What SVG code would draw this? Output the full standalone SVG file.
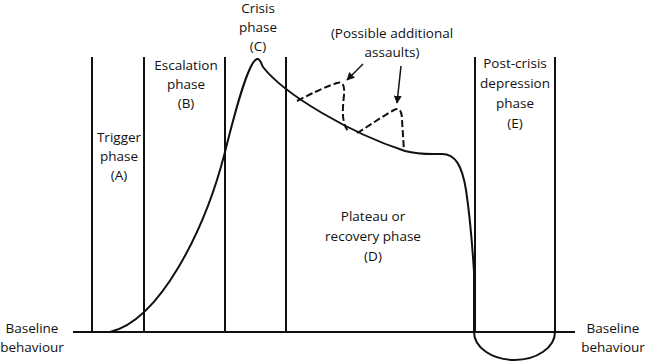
<svg xmlns="http://www.w3.org/2000/svg" width="650" height="362" viewBox="0 0 650 362">
<style>
.t{font-family:"Open Sans","Liberation Sans",sans-serif;font-size:13.5px;fill:#111;text-anchor:middle}
.ln{stroke:#111;stroke-width:2;fill:none}
.cv{stroke:#111;stroke-width:2;fill:none;stroke-linejoin:round}
.ds{stroke:#111;stroke-width:2;fill:none;stroke-dasharray:7 3}
.ar{stroke:#111;stroke-width:1.5;fill:none}
</style>
<defs>
<marker id="ah" viewBox="0 0 10 10" refX="9" refY="5" markerWidth="8" markerHeight="8" markerUnits="userSpaceOnUse" orient="auto">
<path d="M0 0 L10 5 L0 10 Z" fill="#111"/>
</marker>
</defs>
<rect width="650" height="362" fill="#fff"/>
<g id="frame">
<line class="ln" x1="73" y1="332" x2="575" y2="332"/>
<line class="ln" x1="92" y1="57" x2="92" y2="332"/>
<line class="ln" x1="144" y1="57" x2="144" y2="332"/>
<line class="ln" x1="225" y1="57" x2="225" y2="332"/>
<line class="ln" x1="286" y1="57" x2="286" y2="332"/>
<line class="ln" x1="475" y1="57" x2="475" y2="332"/>
<line class="ln" x1="555" y1="57" x2="555" y2="332"/>
</g>
<g id="curve">
<path class="cv" d="M100 332 L110 332 C160 320 205 230 225 152 C235 112 248 62 257 59 C260 58 261 63 263 67 C285 95 350 133 405 151 C420 155 430 154 442 154 C455 154 462 165 466 190 C469 210 472 240 474 272 L474 332 A40.5 28 0 0 0 555 332"/>
</g>
<g id="connectors">
<path class="ds" d="M297 101 C312 93 328 86 337 83 C343 81 345 86 344 95 C343 105 342 115 344 122 C345 127 347 130 349 132"/>
<path class="ds" d="M357 133 C372 124 386 114 394 110 C400 107 402 112 402 120 L404 151"/>
<line class="ar" x1="363" y1="64" x2="347" y2="80" marker-end="url(#ah)"/>
<line class="ar" x1="401" y1="66" x2="397" y2="103" marker-end="url(#ah)"/>
</g>
<g id="label-trigger">
<text class="t" x="119" y="142">Trigger</text>
<text class="t" x="119" y="161">phase</text>
<text class="t" x="119" y="180">(A)</text>
</g>
<g id="label-escalation">
<text class="t" x="186" y="70">Escalation</text>
<text class="t" x="186" y="89">phase</text>
<text class="t" x="186" y="108">(B)</text>
</g>
<g id="label-crisis">
<text class="t" x="258" y="13">Crisis</text>
<text class="t" x="258" y="32">phase</text>
<text class="t" x="258" y="51">(C)</text>
</g>
<g id="label-assaults">
<text class="t" x="392" y="38">(Possible additional</text>
<text class="t" x="392" y="57">assaults)</text>
</g>
<g id="label-plateau">
<text class="t" x="373" y="221">Plateau or</text>
<text class="t" x="373" y="241">recovery phase</text>
<text class="t" x="373" y="261">(D)</text>
</g>
<g id="label-post">
<text class="t" x="515" y="68">Post-crisis</text>
<text class="t" x="515" y="88">depression</text>
<text class="t" x="515" y="108">phase</text>
<text class="t" x="515" y="128">(E)</text>
</g>
<g id="label-baseline-left">
<text class="t" x="32" y="333">Baseline</text>
<text class="t" x="32" y="352">behaviour</text>
</g>
<g id="label-baseline-right">
<text class="t" x="613" y="333">Baseline</text>
<text class="t" x="613" y="352">behaviour</text>
</g>
</svg>
